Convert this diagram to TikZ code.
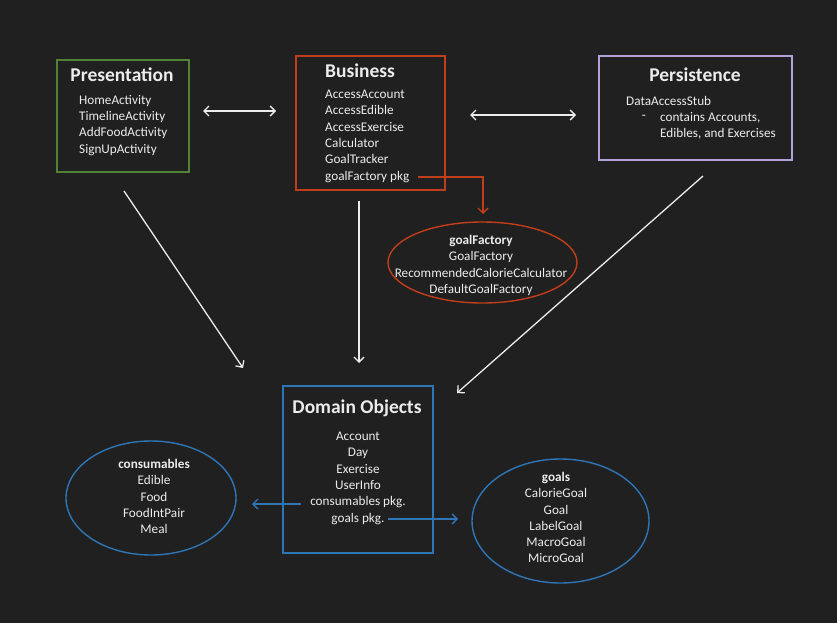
\documentclass[tikz,border=0pt]{standalone}
\usepackage{fontspec}
\setmainfont{Carlito}
\usetikzlibrary{arrows.meta,shapes.geometric}
\definecolor{bg}{RGB}{33,32,32}
\definecolor{pgreen}{RGB}{84,130,53}
\definecolor{bred}{RGB}{192,62,26}
\definecolor{ppurple}{RGB}{178,160,214}
\definecolor{dblue}{RGB}{46,117,182}
\definecolor{txt}{RGB}{236,236,236}
\begin{document}
\begin{tikzpicture}[x=1pt,y=-1pt,
  layerbox/.style={draw=#1,line width=1.4pt,rectangle,inner sep=0pt},
  pkgell/.style={draw=#1,line width=1.4pt,ellipse,inner sep=0pt},
  ttl/.style={text=txt,font=\bfseries\fontsize{19.5}{22}\selectfont,inner sep=0pt},
  body/.style={text=txt,font=\fontsize{13.2}{16.3}\selectfont,inner sep=0pt},
  conn/.style={draw=txt,line width=1.3pt,-{Straight Barb[length=5pt,width=10pt]}},
  dconn/.style={draw=txt,line width=1.3pt,{Straight Barb[length=5pt,width=10pt]}-{Straight Barb[length=5pt,width=10pt]}},
  redconn/.style={draw=bred,line width=1.3pt,-{Straight Barb[length=5pt,width=10pt]}},
  blueconn/.style={draw=dblue,line width=1.3pt,-{Straight Barb[length=5pt,width=10pt]}}]
\fill[bg] (0,0) rectangle (837,623);
\useasboundingbox (0,0) rectangle (837,623);

% boxes
\node[layerbox=pgreen,minimum width=132pt,minimum height=112pt] (pres) at (123,116) {};
\node[layerbox=bred,minimum width=149pt,minimum height=134pt] (bus) at (370.5,123) {};
\node[layerbox=ppurple,minimum width=193pt,minimum height=104pt] (pers) at (695.5,108) {};
\node[layerbox=dblue,minimum width=150pt,minimum height=167pt] (dom) at (358,469.5) {};
\node[pkgell=bred,minimum width=189pt,minimum height=81pt] (gf) at (482.5,262.5) {};
\node[pkgell=dblue,minimum width=170pt,minimum height=114pt] (cons) at (151,498) {};
\node[pkgell=dblue,minimum width=177pt,minimum height=124pt] (goals) at (560.5,521) {};

% titles
\node[ttl] (presT) at (122,75) {Presentation};
\node[ttl] (busT) at (360,71) {Business};
\node[ttl] (persT) at (695,75) {Persistence};
\node[ttl] (domT) at (357,408) {Domain Objects};

% body texts
\node[body,align=left,anchor=north west] (presL) at (79,95) {HomeActivity\\TimelineActivity\\AddFoodActivity\\SignUpActivity};
\node[body,align=left,anchor=north west] (busL) at (325,90) {AccessAccount\\AccessEdible\\AccessExercise\\Calculator\\GoalTracker\\goalFactory pkg};
\node[body,anchor=north west] (persL) at (626,96) {DataAccessStub};
\node[body] (persD) at (644,117) {-};
\node[body,align=left,anchor=north west] (persS) at (660,112) {contains Accounts,\\Edibles, and Exercises};
\node[body,align=center,anchor=north] (domL) at (358,432) {Account\\Day\\Exercise\\UserInfo\\consumables pkg.\\goals pkg.};
\node[body,align=center,anchor=north] (gfL) at (481,235) {\textbf{goalFactory}\\GoalFactory\\RecommendedCalorieCalculator\\DefaultGoalFactory};
\node[body,align=center,anchor=north] (consL) at (154,459) {\textbf{consumables}\\Edible\\Food\\FoodIntPair\\Meal};
\node[body,align=center,anchor=north] (goalsL) at (556,472) {\textbf{goals}\\CalorieGoal\\Goal\\LabelGoal\\MacroGoal\\MicroGoal};

% connector end points
\coordinate (pb1) at (203,111); \coordinate (pb2) at (276,111);
\coordinate (bp1) at (470,115); \coordinate (bp2) at (576,115);
\coordinate (gfs) at (418,177); \coordinate (gfc) at (483,177); \coordinate (gfe) at (483,214);
\coordinate (pd1) at (124,191); \coordinate (pd2) at (243,368);
\coordinate (bd1) at (359,201); \coordinate (bd2) at (359,363);
\coordinate (sd1) at (703,176); \coordinate (sd2) at (457,393);
\coordinate (cs1) at (301,504); \coordinate (cs2) at (252,504);
\coordinate (gs1) at (388,519); \coordinate (gs2) at (458,519);

\draw[dconn] (pb1) -- (pb2);
\draw[dconn] (bp1) -- (bp2);
\draw[redconn] (gfs) -- (gfc) -- (gfe);
\draw[conn] (pd1) -- (pd2);
\draw[conn] (bd1) -- (bd2);
\draw[conn] (sd1) -- (sd2);
\draw[blueconn] (cs1) -- (cs2);
\draw[blueconn] (gs1) -- (gs2);
\end{tikzpicture}
\end{document}
